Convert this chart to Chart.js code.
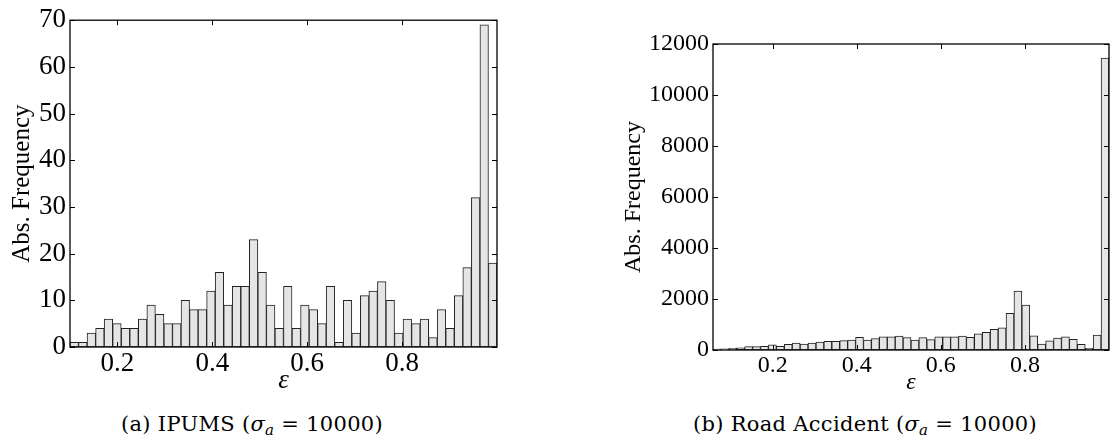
<!DOCTYPE html>
<html>
<head>
<meta charset="utf-8">
<script src="https://cdn.jsdelivr.net/npm/chart.js@4.4.0/dist/chart.umd.min.js"></script>
<style>
  body { margin: 0; background: #fff; width: 1112px; height: 441px; position: relative; overflow: hidden; }
  .box { position: absolute; top: 0; height: 400px; }
  .cap { position: absolute; top: 412px; font-family: "DejaVu Serif", serif; font-size: 21px; color: #000; white-space: nowrap; transform: translateX(-50%); letter-spacing: 0.3px; }
  .cap i { font-style: italic; }
  .cap sub { font-size: 15px; font-style: italic; vertical-align: -4px; }
</style>
</head>
<body>
<div class="box" style="left:0;width:510px"><canvas id="ipums"></canvas></div>
<div class="box" style="left:600px;width:512px"><canvas id="road"></canvas></div>
<div class="cap" style="left:252px">(a) IPUMS (<i>σ</i><sub>a</sub> = 10000)</div>
<div class="cap" style="left:865px">(b) Road Accident (<i>σ</i><sub>a</sub> = 10000)</div>
<script>
// histogram counts, 50 bins each
const ipumsRange = [0.1, 1.0];
const ipumsCounts = [1, 1, 3, 4, 6, 5, 4, 4, 6, 9, 7, 5, 5, 10, 8, 8, 12, 16, 9, 13,
  13, 23, 16, 9, 4, 13, 4, 9, 8, 5, 13, 1, 10, 3, 11, 12, 14, 10, 3, 6,
  5, 6, 2, 8, 4, 11, 17, 32, 69, 18];
const ipumsYTicks = [0, 10, 20, 30, 40, 50, 60, 70];

const roadRange = [0.058, 1.0];
const roadCounts = [40, 50, 65, 90, 130, 130, 145, 200, 145, 220, 275, 235, 275, 315, 340, 340, 365, 390, 500, 390,
  445, 520, 520, 550, 485, 390, 485, 405, 520, 520, 520, 550, 500, 630, 695, 810, 865, 1440, 2315, 1765,
  560, 235, 355, 470, 520, 420, 220, 65, 590, 11450];
const roadYTicks = [0, 2000, 4000, 6000, 8000, 10000, 12000];

const xTicks = [0.2, 0.4, 0.6, 0.8];
const SERIF = "'Liberation Serif', serif";

// frame + inward tick marks on all four sides
const framePlugin = {
  id: 'frame',
  afterDraw(chart) {
    const { ctx, chartArea: a, scales } = chart;
    ctx.save();
    ctx.strokeStyle = '#000';
    ctx.lineWidth = 1.3;
    ctx.strokeRect(a.left, a.top, a.right - a.left, a.bottom - a.top);
    ctx.lineWidth = 1;
    const len = 5;
    ctx.beginPath();
    xTicks.forEach(v => {
      const x = Math.round(scales.x.getPixelForValue(v)) + 0.5;
      ctx.moveTo(x, a.bottom); ctx.lineTo(x, a.bottom - len);
      ctx.moveTo(x, a.top); ctx.lineTo(x, a.top + len);
    });
    scales.y.ticks.forEach(t => {
      const y = Math.round(scales.y.getPixelForValue(t.value)) + 0.5;
      ctx.moveTo(a.left, y); ctx.lineTo(a.left + len, y);
      ctx.moveTo(a.right, y); ctx.lineTo(a.right - len, y);
    });
    ctx.stroke();
    ctx.restore();
  }
};

function makeHist(id, range, counts, yTicks, opt) {
  const w = (range[1] - range[0]) / counts.length;
  const points = counts.map((c, i) => ({ x: range[0] + (i + 0.5) * w, y: c }));
  const font = { family: SERIF, size: opt.fontSize };

  new Chart(document.getElementById(id), {
    type: 'bar',
    data: {
      datasets: [{
        data: points,
        backgroundColor: '#e5e5e5',
        borderColor: '#222',
        borderWidth: 1,
        borderSkipped: false,
        barPercentage: 1,
        categoryPercentage: 1
      }]
    },
    options: {
      responsive: true,
      maintainAspectRatio: false,
      animation: false,
      layout: { padding: opt.padding },
      plugins: { legend: { display: false }, tooltip: { enabled: false } },
      scales: {
        x: {
          type: 'linear',
          offset: false,
          min: range[0],
          max: range[1],
          grid: { display: false, drawTicks: false, offset: false },
          border: { display: false },
          afterBuildTicks: s => { s.ticks = xTicks.map(v => ({ value: v })); },
          afterFit: s => { s.height = opt.xHeight; },
          ticks: { color: '#000', font: font, padding: 1, maxRotation: 0, callback: v => v.toFixed(1) },
          title: { display: true, text: 'ε', color: '#000', padding: 0,
                   font: { family: SERIF, size: opt.fontSize, style: 'italic' } }
        },
        y: {
          min: 0,
          max: yTicks[yTicks.length - 1],
          grid: { display: false, drawTicks: false },
          border: { display: false },
          afterBuildTicks: s => { s.ticks = yTicks.map(v => ({ value: v })); },
          afterFit: s => { s.width = opt.yWidth; },
          ticks: { color: '#000', font: font, padding: 4, callback: v => String(v) },
          title: { display: true, text: 'Abs. Frequency', color: '#000', padding: opt.yTitlePad,
                   font: { family: SERIF, size: opt.titleSize } }
        }
      }
    },
    plugins: [framePlugin]
  });
}

makeHist('ipums', ipumsRange, ipumsCounts, ipumsYTicks, {
  fontSize: 27, titleSize: 25, yTitlePad: 7,
  padding: { left: 0, top: 16, right: 13, bottom: 3 },
  yWidth: 70, xHeight: 50
});

makeHist('road', roadRange, roadCounts, roadYTicks, {
  fontSize: 24, titleSize: 24, yTitlePad: 19,
  padding: { left: 0, top: 44, right: 3, bottom: 3 },
  yWidth: 113, xHeight: 47
});
</script>
</body>
</html>
